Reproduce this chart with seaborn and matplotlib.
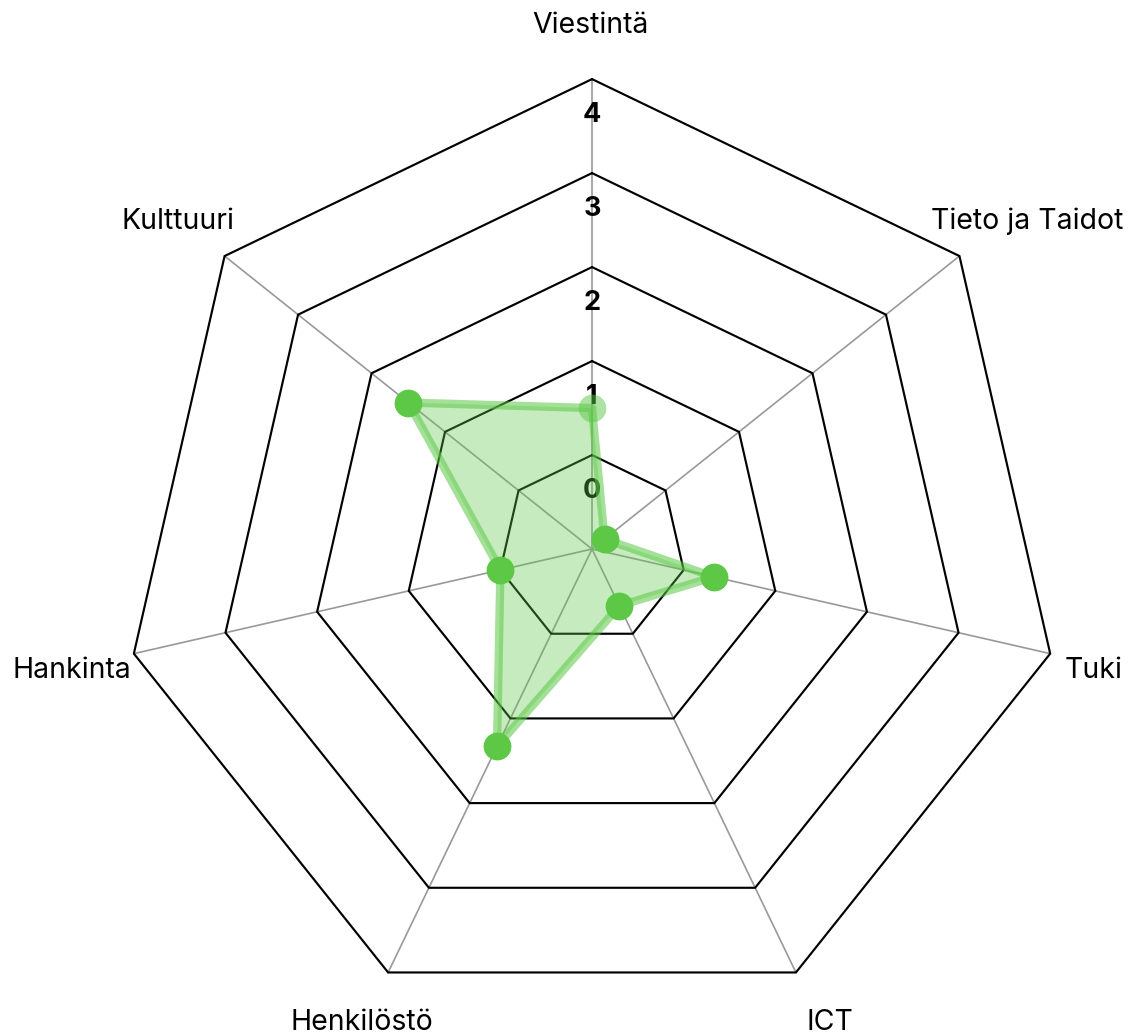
import numpy as np
import matplotlib
matplotlib.use("Agg")
import matplotlib.pyplot as plt
import seaborn as sns
import pandas as pd

categories = ["Viestintä", "Tieto ja Taidot", "Tuki", "ICT", "Henkilöstö", "Hankinta", "Kulttuuri"]
values = [1.5, 0.17, 1.33, 0.67, 2.33, 1.0, 2.5]
ring_levels = [1, 2, 3, 4, 5]
tick_labels = ["0", "1", "2", "3", "4"]

sns.set_theme(style="white")
plt.rcParams['font.family'] = ['Inter', 'DejaVu Sans']

green = "#5cc846"

fig = plt.figure(figsize=(11.36, 10.34), dpi=100)
ax = fig.add_axes([0.1074, 0.0145, 0.8275, 0.909], projection='polar')
ax.set_theta_zero_location('N')
ax.set_theta_direction(-1)
ax.grid(False)
ax.spines['polar'].set_visible(False)
ax.patch.set_alpha(0)

n = len(categories)
theta = np.linspace(0, 2 * np.pi, n, endpoint=False)
theta_closed = np.append(theta, theta[0])

# grid rings (heptagons)
for lvl in ring_levels:
    ax.plot(theta_closed, [lvl] * (n + 1), color='black', lw=1.55, zorder=1, clip_on=False,
            solid_joinstyle='miter')
# spokes
for t in theta:
    ax.plot([t, t], [0, ring_levels[-1]], color='#999999', lw=1.2, zorder=0.9, clip_on=False)

# tick labels
for lvl, lab in zip(ring_levels, tick_labels):
    ax.text(0, lvl - 0.38, lab, ha='center', va='center', fontsize=19.5, fontweight='bold',
            color='black', zorder=1.5)

# data
df = pd.DataFrame({"theta": theta_closed, "value": values + values[:1]})
ax.fill(df["theta"], df["value"], color=green, alpha=0.35, lw=0, zorder=2)
sns.lineplot(data=df, x="theta", y="value", sort=False, ax=ax, color=green, alpha=0.55,
             lw=6, zorder=3, estimator=None)
pts = pd.DataFrame({"theta": theta, "value": values})
sns.scatterplot(data=pts.iloc[1:], x="theta", y="value", ax=ax, color=green, s=400,
                linewidth=0, zorder=4, alpha=1.0)
sns.scatterplot(data=pts.iloc[:1], x="theta", y="value", ax=ax, color=green, s=400,
                linewidth=0, zorder=4, alpha=0.5)

# category labels
label_r = 5.64
offsets_px = [(-2, -7), (21, -3), (-15, -3), (8, 4), (0, 4), (-3, -3), (0, -3)]
for t, name, (dx, dy) in zip(theta, categories, offsets_px):
    ax.annotate(name, xy=(t, label_r), xytext=(dx * 0.72, dy * 0.72), textcoords='offset points',
                ha='center', va='center', fontsize=20.5, color='black', annotation_clip=False)

ax.set_xlim(0, 2 * np.pi)
ax.set_ylim(0, ring_levels[-1])
ax.set_xticks([])
ax.set_yticks([])
ax.set_xlabel('')
ax.set_ylabel('')

fig.savefig('out.png', dpi=100)
